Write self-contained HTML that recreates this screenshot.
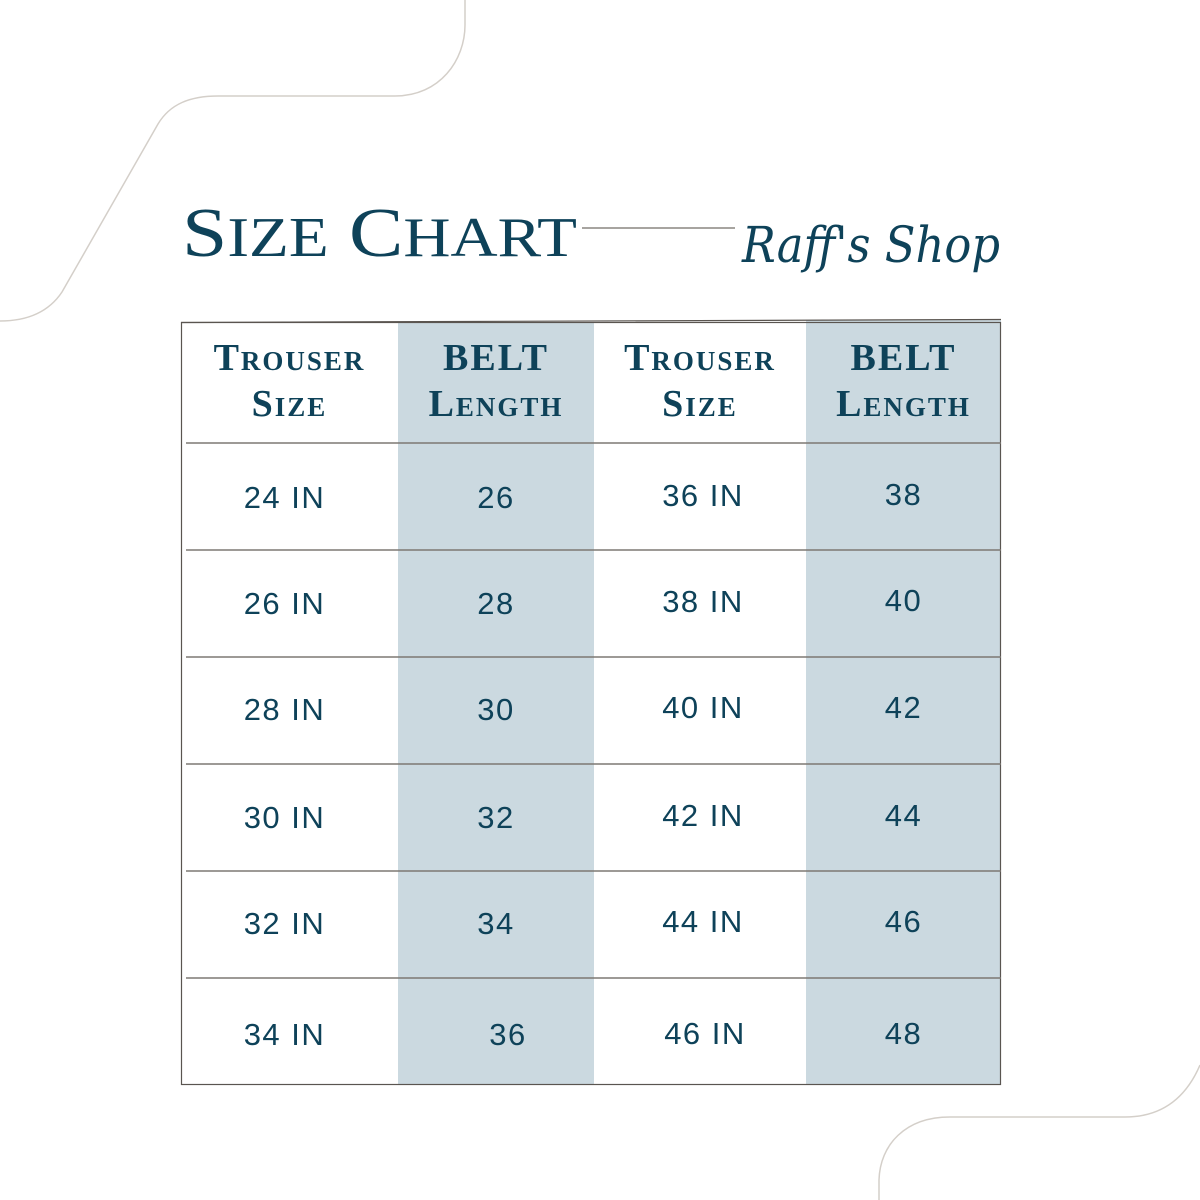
<!DOCTYPE html>
<html><head><style>
body{margin:0;width:1200px;height:1200px;background:#fff;position:relative;overflow:hidden;font-family:"Liberation Sans",sans-serif;color:#0e4259}
.t{position:absolute;text-align:center;}
.h{font-family:"Liberation Serif",serif;font-weight:bold;font-size:38px;line-height:46px;font-variant:small-caps;letter-spacing:2px}
.c{font-size:31px;letter-spacing:1.5px}
</style></head><body>
<svg width="1200" height="1200" style="position:absolute;left:0;top:0">
<path d="M0 321 C30 321 50 310 62 292 L158 124 C170 104 190 96 218 96 L395 96 C440 96 465 60 465 25 L465 0" fill="none" stroke="#d4cfc9" stroke-width="1.5"/>
<path d="M1200 1065 C1185 1100 1160 1117 1125 1117 L950 1117 C905 1117 880 1145 879 1180 L879 1200" fill="none" stroke="#d4cfc9" stroke-width="1.5"/>
<rect x="398" y="323" width="196" height="762" fill="#cbd9e0"/>
<rect x="806" y="320" width="195" height="765" fill="#cbd9e0"/>
<rect x="181.5" y="322.5" width="819" height="762" fill="none" stroke="#5a5550" stroke-width="1.2"/>
<line x1="181" y1="322.5" x2="1001" y2="319.5" stroke="#5a5550" stroke-width="1.2"/>
<g stroke="#7d7873" stroke-width="1.5">
<line x1="186" y1="443" x2="1001" y2="443"/>
<line x1="186" y1="550" x2="1001" y2="550"/>
<line x1="186" y1="657" x2="1001" y2="657"/>
<line x1="186" y1="764" x2="1001" y2="764"/>
<line x1="186" y1="871" x2="1001" y2="871"/>
<line x1="186" y1="978" x2="1001" y2="978"/>
</g>
<line x1="582" y1="228" x2="735" y2="228" stroke="#8a8580" stroke-width="1.5"/>
<text x="182" y="256" font-family="Liberation Serif,serif" font-size="70" fill="#0e4259" textLength="395" lengthAdjust="spacingAndGlyphs">S<tspan font-size="56">IZE</tspan> C<tspan font-size="56">HART</tspan></text>
<text x="742" y="262" font-family="DejaVu Serif,serif" font-style="italic" font-size="50" fill="#0e4259" textLength="258" lengthAdjust="spacingAndGlyphs">Raff's Shop</text>
</svg>
<div class="t h" style="left:181px;top:335px;width:217px">Trouser<br>Size</div>
<div class="t h" style="left:398px;top:335px;width:196px">BELT<br>Length</div>
<div class="t h" style="left:594px;top:335px;width:212px">Trouser<br>Size</div>
<div class="t h" style="left:806px;top:335px;width:195px">BELT<br>Length</div>
<div class="t c" style="left:181px;top:480px;width:207px">24 IN</div><div class="t c" style="left:398px;top:480px;width:196px">26</div><div class="t c" style="left:594px;top:478px;width:218px">36 IN</div><div class="t c" style="left:806px;top:477px;width:195px">38</div>
<div class="t c" style="left:181px;top:586px;width:207px">26 IN</div><div class="t c" style="left:398px;top:586px;width:196px">28</div><div class="t c" style="left:594px;top:584px;width:218px">38 IN</div><div class="t c" style="left:806px;top:583px;width:195px">40</div>
<div class="t c" style="left:181px;top:692px;width:207px">28 IN</div><div class="t c" style="left:398px;top:692px;width:196px">30</div><div class="t c" style="left:594px;top:690px;width:218px">40 IN</div><div class="t c" style="left:806px;top:690px;width:195px">42</div>
<div class="t c" style="left:181px;top:800px;width:207px">30 IN</div><div class="t c" style="left:398px;top:800px;width:196px">32</div><div class="t c" style="left:594px;top:798px;width:218px">42 IN</div><div class="t c" style="left:806px;top:798px;width:195px">44</div>
<div class="t c" style="left:181px;top:906px;width:207px">32 IN</div><div class="t c" style="left:398px;top:906px;width:196px">34</div><div class="t c" style="left:594px;top:904px;width:218px">44 IN</div><div class="t c" style="left:806px;top:904px;width:195px">46</div>
<div class="t c" style="left:181px;top:1017px;width:207px">34 IN</div><div class="t c" style="left:410px;top:1017px;width:196px">36</div><div class="t c" style="left:594px;top:1016px;width:222px">46 IN</div><div class="t c" style="left:806px;top:1016px;width:195px">48</div>
</body></html>
